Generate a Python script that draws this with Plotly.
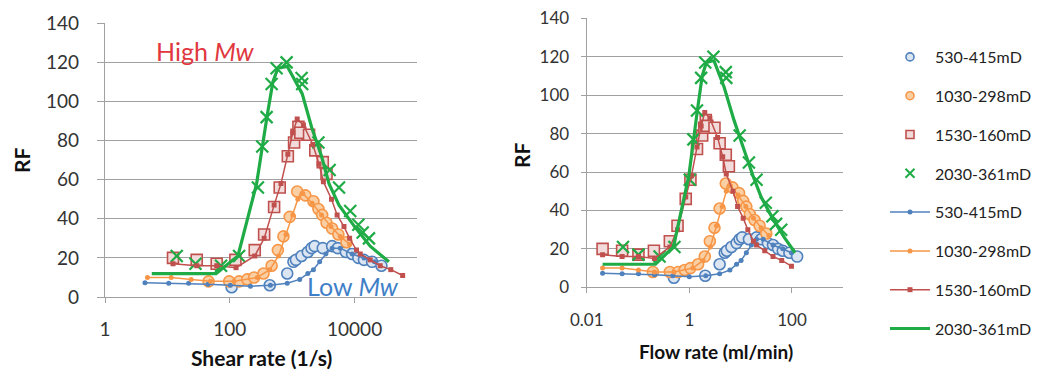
import plotly.graph_objects as go

# ---------------- data ----------------
series_names = ["530-415mD", "1030-298mD", "1530-160mD", "2030-361mD"]

# 530-415mD  (blue) measured points
shear_b_pts = [107, 437, 832, 1047, 1148, 1413, 1778, 2042, 2291, 3090, 4365, 5370, 7244, 9120, 11482, 14125, 19055, 26915]
flow_b_pts = [0.50, 2.04, 3.89, 4.90, 5.37, 6.61, 8.32, 9.55, 10.7, 14.5, 20.4, 25.1, 33.9, 42.7, 53.7, 66.1, 89.1, 126]
rf_b_pts = [5, 6, 12, 18, 19, 21, 23, 25, 26, 25, 26, 25, 23, 22, 20, 19, 18, 16]
# 530-415mD model line
shear_b_line = [4.37, 10.5, 21.9, 44.7, 102, 214, 447, 832, 1318, 1778, 2188, 2754, 3467, 4365, 5888, 9120, 14125, 20893]
flow_b_line = [0.0204, 0.049, 0.102, 0.209, 0.479, 1.0, 2.09, 3.89, 6.17, 8.32, 10.2, 12.9, 16.2, 20.4, 27.5, 42.7, 66.1, 97.7]
rf_b_line = [7.3, 7, 7, 6.5, 6, 5.5, 6, 7, 9, 12, 14, 18, 22, 25, 25, 22, 20, 18]

# 1030-298mD (orange)
shear_o_pts = [45.7, 97.7, 141, 191, 245, 347, 468, 589, 724, 912, 1202, 1622, 2188, 2630, 3020, 3548, 4365, 5495, 7413]
flow_o_pts = [0.195, 0.417, 0.603, 0.813, 1.05, 1.48, 2.0, 2.51, 3.09, 3.89, 5.13, 6.92, 9.33, 11.2, 12.9, 15.1, 18.6, 23.4, 31.6]
rf_o_pts = [8, 8, 8, 9, 10, 12, 16, 24, 31, 41, 54, 52, 49, 45, 42, 38, 35, 32, 28]
shear_o_line = [4.79, 11.5, 24.0, 49.0, 117, 275, 437, 603, 794, 1023, 1230, 1479, 2089, 2951, 4169, 5888, 8318]
flow_o_line = [0.0204, 0.049, 0.102, 0.209, 0.501, 1.17, 1.86, 2.57, 3.39, 4.37, 5.25, 6.31, 8.91, 12.6, 17.8, 25.1, 35.5]
rf_o_line = [10, 10, 9, 8, 8, 10, 14, 21, 32, 42, 50, 53, 48, 42, 36, 31, 27]

# 1530-160mD (red)
shear_r_pts = [12.3, 29.5, 61.7, 123, 251, 355, 513, 631, 851, 1072, 1175, 1259, 1349, 1862, 2344, 3090, 3548]
flow_r_pts = [0.0204, 0.049, 0.102, 0.204, 0.417, 0.589, 0.851, 1.05, 1.41, 1.78, 1.95, 2.09, 2.24, 3.09, 3.89, 5.13, 5.89]
rf_r_pts = [20, 19, 17, 19, 24, 32, 46, 56, 72, 79, 83, 87, 84, 83, 75, 69, 63]
shear_r_line = [12.3, 29.5, 61.7, 126, 251, 355, 513, 661, 851, 1023, 1202, 1514, 2138, 2692, 3162, 4266, 5248, 6761, 8318, 10715, 12303, 17783, 25704, 38019, 58884]
flow_r_line = [0.0204, 0.049, 0.102, 0.209, 0.417, 0.589, 0.851, 1.10, 1.41, 1.70, 2.0, 2.51, 3.55, 4.47, 5.25, 7.08, 8.71, 11.2, 13.8, 17.8, 20.4, 29.5, 42.7, 63.1, 97.7]
rf_r_line = [17, 16, 16, 15, 21, 30, 47, 58, 73, 84, 91, 88, 78, 68, 59, 50, 42, 36, 30, 24, 22, 19, 16, 14, 11]

# 2030-361mD (green)
shear_g_pts = [14.1, 28.2, 72.4, 141, 282, 331, 389, 468, 562, 813, 1413, 1445, 2630, 3981, 5623, 8511, 11482, 13490, 16982]
flow_g_pts = [0.051, 0.102, 0.263, 0.513, 1.02, 1.20, 1.41, 1.70, 2.04, 2.95, 5.13, 5.25, 9.55, 14.5, 20.4, 30.9, 41.7, 49.0, 61.7]
rf_g_pts = [21, 17, 16, 21, 56, 77, 92, 109, 117, 120, 112, 109, 79, 65, 56, 44, 37, 33, 30]
shear_g_line = [5.62, 60.3, 135, 269, 398, 490, 589, 832, 1445, 2042, 2951, 3890, 5623, 10000, 17783, 35481]
flow_g_line = [0.0204, 0.219, 0.49, 0.977, 1.45, 1.78, 2.14, 3.02, 4.79, 7.41, 11.5, 17.4, 25.1, 41.7, 70.8, 115]
rf_g_line = [12, 12, 21, 58, 93, 110, 117, 118, 104, 87, 72, 58, 47, 36, 26, 18]

shear_ticks = [1, 100, 10000]
shear_tick_labels = ["1", "100", "10000"]
flow_ticks = [0.01, 1, 100]
flow_tick_labels = ["0.01", "1", "100"]
rf_ticks = [0, 20, 40, 60, 80, 100, 120, 140]

# ---------------- styles ----------------
W, H = 1038, 374
FONT = "Lato, 'Open Sans', sans-serif"
BLUE, ORANGE, RED, GREEN = "#4f81bd", "#f79646", "#c0504d", "#1fab45"
GRID = "#a0a0a0"

pt_styles = [
    dict(symbol="circle", size=11, color="#dce6f2", line=dict(color=BLUE, width=1.6)),
    dict(symbol="circle", size=11, color="#fbcfa4", line=dict(color=ORANGE, width=1.6)),
    dict(symbol="square", size=11, color="#f2dcdb", line=dict(color=RED, width=1.6)),
    dict(symbol="x-thin-open", size=12, color=GREEN, line=dict(color=GREEN, width=2.2)),
]
legend_pt_styles = [
    dict(symbol="circle", size=8, color="#dce6f2", line=dict(color=BLUE, width=1.6)),
    dict(symbol="circle", size=8, color="#fbcfa4", line=dict(color=ORANGE, width=1.6)),
    dict(symbol="square", size=8, color="#f2dcdb", line=dict(color=RED, width=1.6)),
    dict(symbol="x-thin-open", size=9, color=GREEN, line=dict(color=GREEN, width=2)),
]
line_styles = [
    (dict(color=BLUE, width=1.5), dict(symbol="circle", size=5, color=BLUE)),
    (dict(color=ORANGE, width=1.5), dict(symbol="circle", size=5, color=ORANGE)),
    (dict(color=RED, width=1.5), dict(symbol="square", size=5, color=RED)),
    (dict(color=GREEN, width=3.2), None),
]

panels = [
    ("x", "y", [shear_b_pts, shear_o_pts, shear_r_pts, shear_g_pts],
     [shear_b_line, shear_o_line, shear_r_line, shear_g_line]),
    ("x2", "y2", [flow_b_pts, flow_o_pts, flow_r_pts, flow_g_pts],
     [flow_b_line, flow_o_line, flow_r_line, flow_g_line]),
]
rf_pts = [rf_b_pts, rf_o_pts, rf_r_pts, rf_g_pts]
rf_lines = [rf_b_line, rf_o_line, rf_r_line, rf_g_line]

fig = go.Figure()
for xa, ya, xpts, xlines in panels:
    for i in range(4):
        fig.add_trace(go.Scatter(
            x=xpts[i], y=rf_pts[i], mode="markers", name=series_names[i],
            marker=pt_styles[i], xaxis=xa, yaxis=ya, showlegend=False))
    for i in range(4):
        ln, mk = line_styles[i]
        fig.add_trace(go.Scatter(
            x=xlines[i], y=rf_lines[i], mode="lines+markers" if mk else "lines",
            name=series_names[i], line=ln, marker=mk if mk else dict(size=1),
            xaxis=xa, yaxis=ya, showlegend=False))

# legend entries (smaller symbols, as in the original legend)
for i in range(4):
    fig.add_trace(go.Scatter(x=[None], y=[None], mode="markers", name=series_names[i],
                             marker=legend_pt_styles[i], legendgroup=f"p{i}", showlegend=True))
for i in range(4):
    ln, mk = line_styles[i]
    fig.add_trace(go.Scatter(x=[None], y=[None], mode="lines+markers" if mk else "lines",
                             name=series_names[i], line=ln, marker=mk if mk else dict(size=1),
                             legendgroup=f"l{i}", showlegend=True))


def px_x(p):
    return p / W


def px_y(p):
    return 1 - p / H


common_y = dict(range=[0, 140], tickvals=rf_ticks, showgrid=True, gridcolor=GRID, gridwidth=1.3,
                zeroline=False, showline=True, linecolor=GRID, linewidth=1.3,
                ticks="outside", tickcolor=GRID, tickwidth=1.3)
common_x = dict(type="log", showgrid=False, zeroline=False, showline=True, linecolor=GRID,
                linewidth=1.3, ticks="outside", tickcolor=GRID, tickwidth=1.3, ticklen=5)

fig.update_layout(
    width=W, height=H, margin=dict(l=0, r=0, t=0, b=0, autoexpand=False),
    paper_bgcolor="white", plot_bgcolor="white",
    font=dict(family=FONT, color="#333333"),
    xaxis=dict(common_x, domain=[px_x(105), px_x(417)], range=[0, 5], tickvals=shear_ticks,
               ticktext=shear_tick_labels, tickfont=dict(size=19), anchor="y", ticklabelstandoff=10),
    yaxis=dict(common_y, domain=[px_y(297), px_y(23.3)], tickfont=dict(size=19), ticklen=7,
               anchor="x", ticklabelstandoff=14),
    xaxis2=dict(common_x, domain=[px_x(586.7), px_x(843.3)], range=[-2, 3], tickvals=flow_ticks,
                ticktext=flow_tick_labels, tickfont=dict(size=17), anchor="y2", ticklabelstandoff=12),
    yaxis2=dict(common_y, domain=[px_y(287.3), px_y(18.3)], tickfont=dict(size=17), ticklen=5,
                anchor="x2", ticklabelstandoff=8),
    legend=dict(x=px_x(885), y=px_y(40), xanchor="left", yanchor="top",
                font=dict(family=FONT, size=16, color="#222222"),
                tracegroupgap=15, itemwidth=40, bgcolor="rgba(0,0,0,0)"),
    showlegend=True,
)

annos = [
    dict(text="<b>RF</b>", x=px_x(22), y=px_y(160), textangle=-90, font=dict(size=21, color="#111")),
    dict(text="<b>RF</b>", x=px_x(521), y=px_y(155), textangle=-90, font=dict(size=21, color="#111")),
    dict(text="<b>Shear rate (1/s)</b>", x=px_x(261), y=px_y(357), font=dict(size=21, color="#111")),
    dict(text="<b>Flow rate (ml/min)</b>", x=px_x(716), y=px_y(351), font=dict(size=19, color="#111")),
    dict(text="High <i>Mw</i>", x=px_x(205), y=px_y(51), font=dict(size=25, color="#e0383e")),
    dict(text="Low <i>Mw</i>", x=px_x(353), y=px_y(286), font=dict(size=25, color="#3f7fc8")),
]
for a in annos:
    fig.add_annotation(xref="paper", yref="paper", showarrow=False, xanchor="center",
                       yanchor="middle", font_family=FONT, **a)

# remove the browser's default 8px body margin so the figure sits at the window's corner
fig.write_html("out.html", config={"displayModeBar": False},
               post_script="document.body.style.margin='0';")
